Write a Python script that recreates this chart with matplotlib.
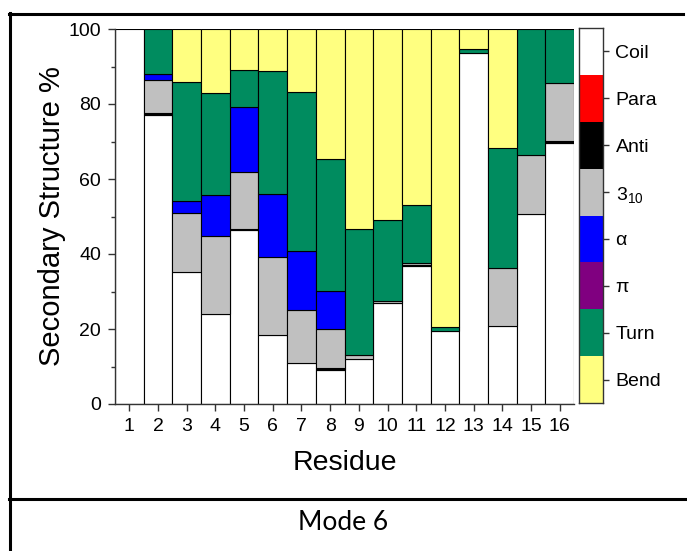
import matplotlib
matplotlib.use("Agg")
import matplotlib.pyplot as plt
import numpy as np
from matplotlib.lines import Line2D

plt.rcParams['font.family'] = ['Liberation Sans', 'DejaVu Sans']
plt.rcParams['mathtext.default'] = 'regular'

residues = list(range(1, 17))
categories = ["Coil", "Para", "Anti", "3$_{10}$", "\u03b1", "\u03c0", "Turn", "Bend"]
colors = ["#FFFFFF", "#FF0000", "#000000", "#C0C0C0", "#0000FF", "#800080", "#008C5F", "#FFFF80"]

coil = [100.0, 77.1, 35.3, 23.9, 46.4, 18.4, 11.0, 9.1, 11.9, 27.0, 36.8, 19.5, 93.7, 20.8, 50.8, 69.7]
para = [0.0] * 16
anti = [0.0, 0.4, 0.0, 0.0, 0.3, 0.0, 0.0, 0.4, 0.0, 0.0, 0.4, 0.0, 0.0, 0.0, 0.0, 0.4]
h310 = [0.0, 8.9, 15.7, 20.9, 15.1, 20.8, 14.0, 10.4, 1.2, 0.5, 0.3, 0.0, 0.0, 15.6, 15.6, 15.6]
alpha = [0.0, 1.5, 3.1, 10.9, 17.5, 16.8, 15.9, 10.2, 0.0, 0.0, 0.0, 0.0, 0.0, 0.0, 0.0, 0.0]
pi = [0.0] * 16
turn = [0.0, 12.1, 31.7, 27.3, 9.8, 32.8, 42.3, 35.2, 33.5, 21.7, 15.6, 1.1, 1.1, 32.0, 33.6, 14.3]
bend = [0.0, 0.0, 14.2, 17.0, 10.9, 11.2, 16.8, 34.7, 53.4, 50.8, 46.9, 79.4, 5.2, 31.6, 0.0, 0.0]

series = [coil, para, anti, h310, alpha, pi, turn, bend]

fig = plt.figure(figsize=(6.87, 5.51), dpi=100)
W, H = 687.0, 551.0

ax = fig.add_axes([115 / W, 1 - 404 / H, (574 - 115) / W, (404 - 29) / H])

bottom = np.zeros(len(residues))
for vals, col in zip(series, colors):
    vals = np.asarray(vals, dtype=float)
    lw = np.where(vals > 0, 0.8, 0.0)
    ax.bar(residues, vals, width=1.0, bottom=bottom, color=col,
           edgecolor="black", linewidth=lw, zorder=2)
    bottom += vals

ax.set_xlim(0.5, 16.5)
ax.set_ylim(0, 100)
ax.set_xticks(residues)
ax.set_yticks(np.arange(0, 101, 20))
ax.set_yticks(np.arange(10, 100, 20), minor=True)
ax.tick_params(axis='both', which='major', direction='out', length=5, width=1,
               labelsize=14, color='#333333')
ax.tick_params(axis='y', which='minor', direction='out', length=3, width=1, color='#333333')
ax.tick_params(axis='x', pad=5)
ax.tick_params(axis='y', pad=5)
for s in ['top', 'right']:
    ax.spines[s].set_visible(False)
for s in ['left', 'bottom']:
    ax.spines[s].set_linewidth(1.0)
    ax.spines[s].set_color('#333333')
ax.set_ylabel("Secondary Structure %", fontsize=21, labelpad=2)
ax.set_xlabel("Residue", fontsize=20.5, labelpad=11)

# color key on the right
lax = fig.add_axes([579 / W, 1 - 403 / H, 24 / W, (403 - 28) / H])
n = len(categories)
for i, col in enumerate(colors):
    lax.bar(0, 1, width=1, bottom=n - 1 - i, color=col, edgecolor='none')
lax.set_xlim(-0.5, 0.5)
lax.set_ylim(0, n)
lax.set_xticks([])
lax.yaxis.tick_right()
lax.set_yticks([n - 0.5 - i for i in range(n)])
lax.set_yticklabels(categories)
lax.tick_params(axis='y', direction='out', length=4, width=1, labelsize=14, pad=5,
                color='#333333')
for s in lax.spines.values():
    s.set_linewidth(1.0)
    s.set_color('#333333')

# frame and caption
def hline(y, x0, x1):
    fig.add_artist(Line2D([x0 / W, x1 / W], [1 - y / H, 1 - y / H],
                          transform=fig.transFigure, color='black', linewidth=2.2))

def vline(x, y0, y1):
    fig.add_artist(Line2D([x / W, x / W], [1 - y0 / H, 1 - y1 / H],
                          transform=fig.transFigure, color='black', linewidth=2.2))

hline(14, 9, 683)
hline(499, 9, 687)
vline(10, 13, 551)

fig.text(343 / W, 1 - 523 / H, "Mode 6", ha='center', va='center', fontsize=19,
         family=['Lato', 'DejaVu Sans'])

fig.savefig("out.png", dpi=100)
